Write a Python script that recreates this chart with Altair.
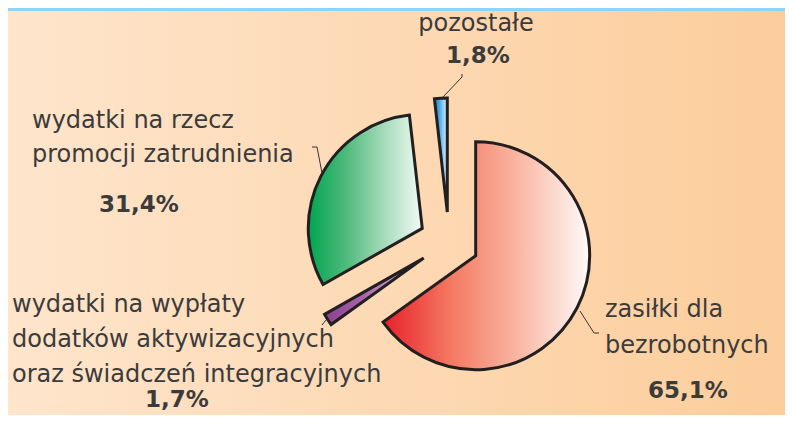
import altair as alt
import pandas as pd

# ---- data ----
categories = [
    "zasiłki dla bezrobotnych",
    "wydatki na wypłaty dodatków aktywizacyjnych oraz świadczeń integracyjnych",
    "wydatki na rzecz promocji zatrudnienia",
    "pozostałe",
]
shares = [65.1, 1.7, 31.4, 1.8]
share_labels = ["65,1%", "1,7%", "31,4%", "1,8%"]
slice_order = [0, 1, 2, 3]
label_lines = [
    ["zasiłki dla", "bezrobotnych"],
    ["wydatki na wypłaty", "dodatków aktywizacyjnych", "oraz świadczeń integracyjnych"],
    ["wydatki na rzecz", "promocji zatrudnienia"],
    ["pozostałe"],
]

# ---- layout / style ----
W, H = 777, 407
CX, CY = 441, 234
R = 114
EXPLODE = 30
FONT = "DejaVu Sans"
TEXT_COLOR = "#3b3b3b"
STROKE = "#231f20"

label_pos = [  # x, first baseline, line step, align
    (597, 309, 36, "left"),
    (4, 304, 35, "left"),
    (24, 120, 34, "left"),
    (468, 23, 0, "center"),
]
pct_pos = [(680, 390), (169, 399), (131, 204), (470, 55)]
leader_pts = [
    [(572, 303), (586, 325), (591, 325)],
    [(314, 317), (318, 312)],
    [(304, 139), (309, 139), (314, 165)],
    [(454, 66), (454, 69), (435, 89)],
]
gradients = [
    ["#e8202a", "#f47a63", "#f9b9a6", "#fffaf8"],
    ["#8e3f90", "#a45ea6", "#c292c4", "#dcbfdc"],
    ["#00a651", "#4fba7c", "#a6dbbb", "#f2fbf5"],
    ["#1683d3", "#3fa3e4", "#8fcdf2", "#d8effb"],
]


def lin_grad(colors, x2=1, y2=0):
    n = len(colors) - 1
    return alt.LinearGradient(
        gradient="linear",
        stops=[alt.GradientStop(color=c, offset=i / n) for i, c in enumerate(colors)],
        x1=0, y1=0, x2=x2, y2=y2,
    )


pie_df = pd.DataFrame({"cat": categories, "value": shares, "order": slice_order})

layers = []

# background
bg_df = pd.DataFrame({"k": [0]})
layers.append(
    alt.Chart(bg_df).mark_rect(fill=lin_grad(["#fee5cb", "#fdd9b4", "#fccd9b"])).encode(
        x=alt.value(0), x2=alt.value(W), y=alt.value(0), y2=alt.value(H)
    )
)
layers.append(
    alt.Chart(bg_df).mark_rect(fill="#8dd5f2").encode(
        x=alt.value(0), x2=alt.value(W), y=alt.value(0), y2=alt.value(3)
    )
)

# slices
base = (
    alt.Chart(pie_df)
    .transform_joinaggregate(total="sum(value)")
    .transform_window(cum="sum(value)", sort=[alt.SortField("order")])
    .transform_calculate(
        a0="(datum.cum - datum.value) / datum.total * 2 * PI",
        a1="datum.cum / datum.total * 2 * PI",
    )
    .transform_calculate(mid="(datum.a0 + datum.a1) / 2")
    .transform_calculate(
        cx=f"{CX} + {EXPLODE} * sin(datum.mid)",
        cy=f"{CY} - {EXPLODE} * cos(datum.mid)",
    )
)
for i, cat in enumerate(categories):
    layers.append(
        base.transform_filter(alt.datum.order == slice_order[i])
        .mark_arc(
            radius=R,
            fill=lin_grad(gradients[i]),
            stroke=STROKE,
            strokeWidth=3,
            strokeJoin="miter",
        )
        .encode(
            theta=alt.Theta("a0:Q", scale=None),
            theta2="a1:Q",
            x=alt.X("cx:Q", scale=None),
            y=alt.Y("cy:Q", scale=None),
        )
    )

# leader lines
lead_rows = []
for i, pts in enumerate(leader_pts):
    for j, (px, py) in enumerate(pts):
        lead_rows.append({"cat": categories[i], "px": px, "py": py, "j": j})
lead_df = pd.DataFrame(lead_rows)
layers.append(
    alt.Chart(lead_df).mark_line(color="#333333", strokeWidth=1).encode(
        x=alt.X("px:Q", scale=None),
        y=alt.Y("py:Q", scale=None),
        detail="cat:N",
        order="j:Q",
    )
)

# labels
txt_rows = []
for i, lines in enumerate(label_lines):
    lx, ly, step, al = label_pos[i]
    for j, t in enumerate(lines):
        txt_rows.append({"t": t, "px": lx, "py": ly + j * step, "al": al})
for al in ["left", "center"]:
    sub = pd.DataFrame([r for r in txt_rows if r["al"] == al])
    layers.append(
        alt.Chart(sub).mark_text(
            font=FONT, fontSize=24, color=TEXT_COLOR, align=al, baseline="alphabetic"
        ).encode(
            x=alt.X("px:Q", scale=None), y=alt.Y("py:Q", scale=None), text="t:N"
        )
    )

pct_df = pd.DataFrame({
    "t": share_labels,
    "px": [p[0] for p in pct_pos],
    "py": [p[1] for p in pct_pos],
})
layers.append(
    alt.Chart(pct_df).mark_text(
        font=FONT, fontSize=23, fontWeight="bold", color=TEXT_COLOR,
        align="center", baseline="alphabetic",
    ).encode(x=alt.X("px:Q", scale=None), y=alt.Y("py:Q", scale=None), text="t:N")
)

chart = (
    alt.layer(*layers)
    .properties(width=W, height=H, padding=0, autosize="none", background="#fde0c2")
    .configure_view(strokeWidth=0)
)

chart.save("out.html", embed_options={"renderer": "svg", "actions": False})
